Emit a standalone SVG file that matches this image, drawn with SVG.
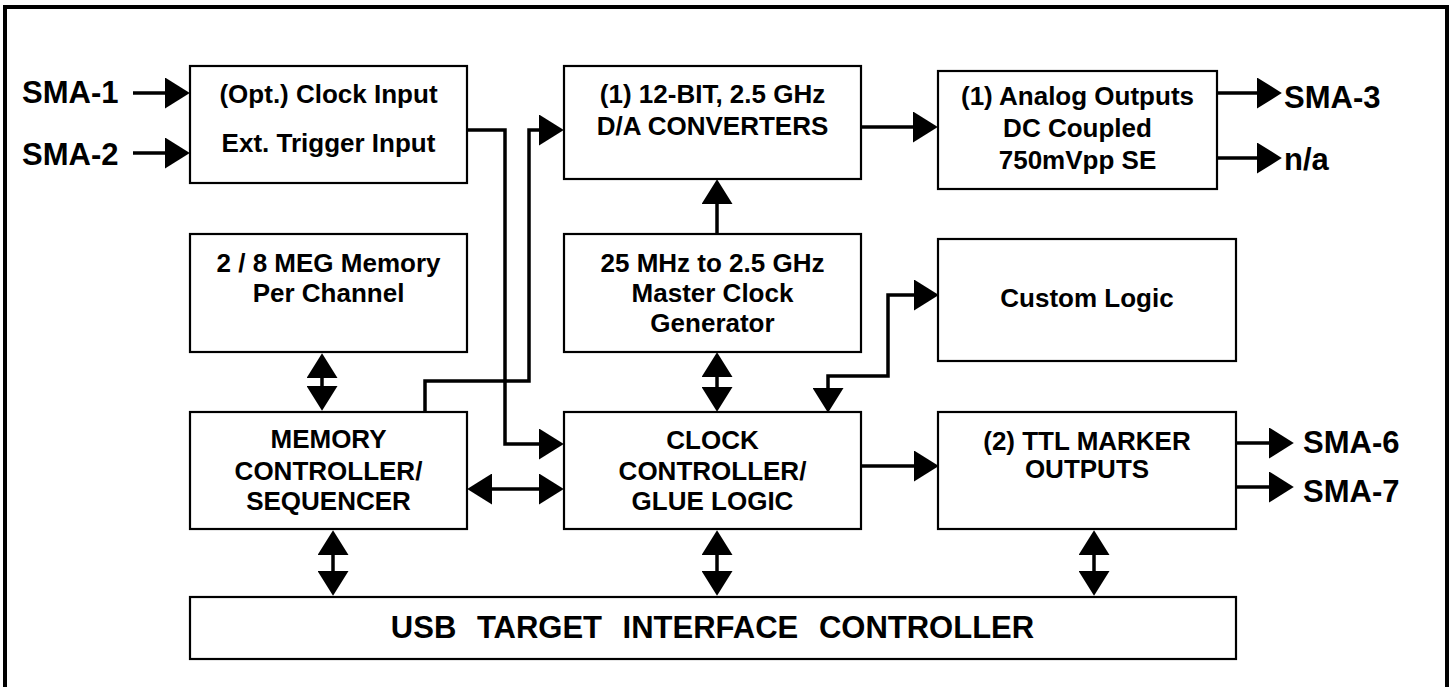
<svg xmlns="http://www.w3.org/2000/svg" width="1452" height="687" viewBox="0 0 1452 687">
<style>
.box{fill:#fff;stroke:#000;stroke-width:2.2}
.t{font-family:"Liberation Sans",Arial,sans-serif;font-weight:bold;font-size:26px;fill:#000;text-anchor:middle}
.sma{font-family:"Liberation Sans",Arial,sans-serif;font-weight:bold;font-size:31px;fill:#000}
.usb{font-family:"Liberation Sans",Arial,sans-serif;font-weight:bold;font-size:31px;fill:#000;text-anchor:middle;word-spacing:12px}
.c{fill:none;stroke:#000;stroke-width:3.5}
.a{marker-end:url(#ah)}
.d{marker-start:url(#ah);marker-end:url(#ah)}
</style>
<defs>
<marker id="ah" markerUnits="userSpaceOnUse" markerWidth="25" markerHeight="31" viewBox="0 0 24 30" refX="0" refY="15" orient="auto-start-reverse">
<path d="M0,0 L24,15 L0,30 z" fill="#000"/>
</marker>
</defs>
<rect x="5" y="7" width="1442" height="700" fill="#fff" stroke="#000" stroke-width="4"/>

<g id="connectors">
<path class="c a" d="M133,93 H165"/>
<path class="c a" d="M133,153 H165"/>
<path class="c a" d="M467,130 H505 V444 H539"/>
<path class="c a" d="M425,412 V381 H529 V130 H539"/>
<path class="c a" d="M861,127 H913"/>
<path class="c a" d="M1217,93 H1257"/>
<path class="c a" d="M1217,158 H1257"/>
<path class="c a" d="M717,234 V204"/>
<path class="c d" d="M717,377 V387"/>
<path class="c d" d="M322,378 V386"/>
<path class="c d" d="M828,388 V376 H888 V295 H914"/>
<path class="c d" d="M492,489 H539"/>
<path class="c a" d="M861,466 H914"/>
<path class="c a" d="M1236,443 H1269"/>
<path class="c a" d="M1236,487 H1269"/>
<path class="c d" d="M333,555 V571"/>
<path class="c d" d="M717,555 V571"/>
<path class="c d" d="M1094,555 V571"/>
</g>

<g id="sma-labels">
<text class="sma" x="22" y="103">SMA-1</text>
<text class="sma" x="22" y="165">SMA-2</text>
<text class="sma" x="1284" y="108">SMA-3</text>
<text class="sma" x="1284" y="170">n/a</text>
<text class="sma" x="1303" y="453">SMA-6</text>
<text class="sma" x="1303" y="502">SMA-7</text>
</g>

<g id="clock-input">
<rect class="box" x="190" y="66" width="277" height="117"/>
<text class="t" x="328.5" y="103">(Opt.) Clock Input</text>
<text class="t" x="328.5" y="152">Ext. Trigger Input</text>
</g>

<g id="dac">
<rect class="box" x="564" y="66" width="297" height="113"/>
<text class="t" x="712.5" y="103">(1) 12-BIT, 2.5 GHz</text>
<text class="t" x="712.5" y="135">D/A CONVERTERS</text>
</g>

<g id="analog-outputs">
<rect class="box" x="938" y="71" width="279" height="118"/>
<text class="t" x="1077.5" y="105">(1) Analog Outputs</text>
<text class="t" x="1077.5" y="137">DC Coupled</text>
<text class="t" x="1077.5" y="169">750mVpp SE</text>
</g>

<g id="memory">
<rect class="box" x="190" y="234" width="277" height="118"/>
<text class="t" x="328.5" y="272">2 / 8 MEG Memory</text>
<text class="t" x="328.5" y="302">Per Channel</text>
</g>

<g id="master-clock">
<rect class="box" x="564" y="234" width="297" height="118"/>
<text class="t" x="712.5" y="272">25 MHz to 2.5 GHz</text>
<text class="t" x="712.5" y="302">Master Clock</text>
<text class="t" x="712.5" y="332">Generator</text>
</g>

<g id="custom-logic">
<rect class="box" x="938" y="239" width="298" height="122"/>
<text class="t" x="1087" y="307">Custom Logic</text>
</g>

<g id="memory-controller">
<rect class="box" x="190" y="412" width="277" height="117"/>
<text class="t" x="328.5" y="448">MEMORY</text>
<text class="t" x="328.5" y="480">CONTROLLER/</text>
<text class="t" x="328.5" y="510">SEQUENCER</text>
</g>

<g id="clock-controller">
<rect class="box" x="564" y="412" width="297" height="117"/>
<text class="t" x="712.5" y="449">CLOCK</text>
<text class="t" x="712.5" y="480">CONTROLLER/</text>
<text class="t" x="712.5" y="510">GLUE LOGIC</text>
</g>

<g id="ttl-marker">
<rect class="box" x="938" y="412" width="298" height="117"/>
<text class="t" x="1087" y="450">(2) TTL MARKER</text>
<text class="t" x="1087" y="478">OUTPUTS</text>
</g>

<g id="usb">
<rect class="box" x="190" y="597" width="1046" height="62"/>
<text class="usb" x="712.5" y="638">USB TARGET INTERFACE CONTROLLER</text>
</g>
</svg>
